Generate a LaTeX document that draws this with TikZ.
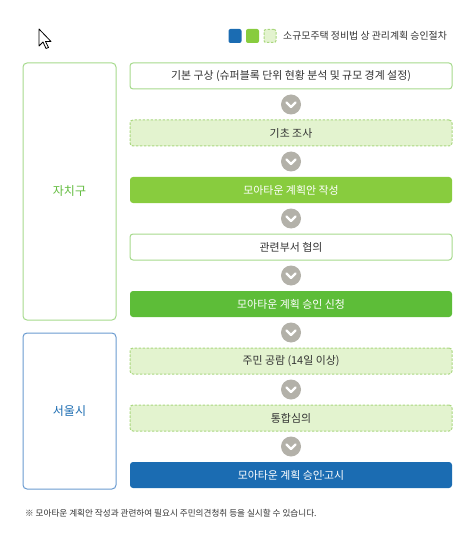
\documentclass[tikz,border=0pt]{standalone}
\usepackage{fontspec}
\setmainfont{Noto Sans CJK KR}
\usepackage{tikz}
\usetikzlibrary{calc}
\usetikzlibrary{shapes}

\definecolor{txtgray}{HTML}{333333}
\definecolor{stepgreen}{HTML}{88CC3E}
\definecolor{stepdark}{HTML}{5DBD38}
\definecolor{stepblue}{HTML}{1B6CB2}
\definecolor{palefill}{HTML}{E3F3CF}
\definecolor{paledash}{HTML}{A9D77E}
\definecolor{framegreen}{HTML}{A6DA8C}
\definecolor{frameblue}{HTML}{6A9BD0}
\definecolor{chevgray}{HTML}{B3B1A9}
\definecolor{labgreen}{HTML}{62BC3E}

\tikzset{
	%	basic step boxes
	stepbox/.style={rounded corners=3pt, minimum width=322pt, minimum height=26pt, inner sep=0pt, line width=1pt, font=\fontsize{10.9}{13}\selectfont},
	plainbox/.style={stepbox, draw=framegreen, fill=white, text=txtgray},
	palebox/.style={stepbox, draw=paledash, dash pattern=on 2.5pt off 1.5pt, fill=palefill, text=txtgray},
	greenbox/.style={stepbox, fill=stepgreen, text=white},
	darkbox/.style={stepbox, fill=stepdark, text=white},
	bluebox/.style={stepbox, fill=stepblue, text=white}
}
\tikzset{
	side/.style={rounded corners=4pt, minimum width=93pt, inner sep=0pt, line width=1pt, fill=white, font=\fontsize{12}{14}\selectfont},
	chev/.style={circle, fill=chevgray, minimum size=20pt, inner sep=0pt},
	chevline/.style={draw=white, line width=2.4pt, line cap=round, line join=round}
}

\begin{document}
\begin{tikzpicture}[x=1pt, y=-1pt]
\useasboundingbox (0,0) rectangle (468,537);

% pointer
\draw[black, fill=white, line width=0.8pt, line join=round] (39,29) -- (39,46) -- (43,42) -- (46,48.5) -- (48.5,47.5) -- (45.5,41.5) -- (51,41.5) -- cycle;

% legend
\node[fill=stepblue, rounded corners=2pt, minimum width=13pt, minimum height=14pt, inner sep=0pt] (legA) at (235,36) {};
\node[fill=stepgreen, rounded corners=2pt, minimum width=13pt, minimum height=14pt, inner sep=0pt] (legB) at (252.5,36) {};
\node[fill=palefill, draw=paledash, line width=1pt, dash pattern=on 2.5pt off 1.5pt, rounded corners=2pt, minimum width=12pt, minimum height=13pt, inner sep=0pt] (legC) at (270,36) {};
\node[anchor=west, text=txtgray, font=\fontsize{9.9}{12}\selectfont, inner sep=0pt] (legT) at (283,36) {소규모주택 정비법 상 관리계획 승인절차};

% sides
\node[side, draw=framegreen, minimum height=257pt, text=labgreen] (gu) at (69.5,191.5) {자치구};
\node[side, draw=frameblue, minimum height=156pt, text=stepblue] (si) at (69.5,411) {서울시};

% steps
\node[plainbox] (s1) at (291,76) {기본 구상 (슈퍼블록 단위 현황 분석 및 규모 경계 설정)};
\node[palebox] (s2) at (291,133) {기초 조사};
\node[greenbox] (s3) at (291,190) {모아타운 계획안 작성};
\node[plainbox] (s4) at (291,247) {관련부서 협의};
\node[darkbox] (s5) at (291,304) {모아타운 계획 승인 신청};
\node[palebox] (s6) at (291,361) {주민 공람 (14일 이상)};
\node[palebox] (s7) at (291,418) {통합심의};
\node[bluebox] (s8) at (291,475) {모아타운 계획 승인\kern-2.5pt·\kern-2.5pt고시};

% chevrons between steps
\foreach \a/\b in {1/2,2/3,3/4,4/5,5/6,6/7,7/8}{
	\node[chev] (c\a) at ($(s\a.south)!0.5!(s\b.north)$) {};
	\draw[chevline] (c\a.center) +(-4.5,-2) -- +(0,2.5) -- +(4.5,-2);
}

% note
\node[anchor=west, text=txtgray, font=\fontsize{8.6}{10}\selectfont, inner sep=0pt] (note) at (25,513) {※ 모아타운 계획안 작성과 관련하여 필요시 주민의견청취 등을 실시할 수 있습니다.};
\end{tikzpicture}
\end{document}
